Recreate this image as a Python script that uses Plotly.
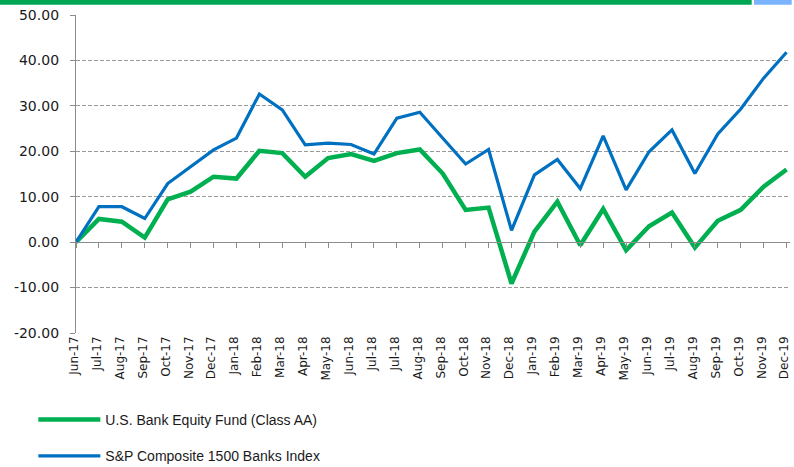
import plotly.graph_objects as go

months = ["Jun-17", "Jul-17", "Aug-17", "Sep-17", "Oct-17", "Nov-17", "Dec-17",
          "Jan-18", "Feb-18", "Mar-18", "Apr-18", "May-18", "Jun-18", "Jul-18",
          "Jul-18", "Aug-18", "Sep-18", "Oct-18", "Nov-18", "Dec-18",
          "Jan-19", "Feb-19", "Mar-19", "Apr-19", "May-19", "Jun-19", "Jul-19",
          "Aug-19", "Sep-19", "Oct-19", "Nov-19", "Dec-19"]

fund = [0.0, 5.1, 4.5, 1.0, 9.4, 11.1, 14.4, 14.0, 20.1, 19.6, 14.4, 18.5,
        19.4, 17.9, 19.6, 20.4, 15.1, 7.1, 7.6, -9.1, 2.3, 8.9, -0.7, 7.3,
        -1.8, 3.5, 6.5, -1.2, 4.7, 7.1, 12.2, 16.0]

index = [0.0, 7.8, 7.8, 5.2, 12.9, 16.6, 20.3, 22.9, 32.6, 29.1, 21.4, 21.8,
         21.5, 19.4, 27.3, 28.6, 22.9, 17.2, 20.4, 2.6, 14.8, 18.2, 11.8, 23.4,
         11.5, 19.9, 24.7, 15.1, 23.8, 29.3, 36.1, 41.8]

y_ticks = [50, 40, 30, 20, 10, 0, -10, -20]

x = list(range(len(months)))

GREEN = "#00B050"
BLUE = "#0070C0"

fig = go.Figure()
fig.add_trace(go.Scatter(
    x=x, y=fund, mode="lines", name="U.S. Bank Equity Fund (Class AA)",
    line=dict(color=GREEN, width=4.5), legendgroup="a"))
fig.add_trace(go.Scatter(
    x=x, y=index, mode="lines", name="S&P Composite 1500 Banks Index",
    line=dict(color=BLUE, width=3.2), legendgroup="b"))

xr = [0, len(months) - 1 + 0.15]

fig.update_layout(
    width=794, height=467,
    margin=dict(l=76, r=4, t=15, b=134, autoexpand=False),
    paper_bgcolor="white", plot_bgcolor="white",
    showlegend=True,
    legend=dict(
        xref="container", yref="container",
        x=0.042, y=1 - 404 / 467, xanchor="left", yanchor="top",
        font=dict(family="Liberation Sans, Arial, sans-serif", size=14, color="#1a1a1a"),
        itemwidth=62, tracegroupgap=15, bgcolor="rgba(0,0,0,0)",
        itemclick=False, itemdoubleclick=False,
    ),
    xaxis=dict(
        range=xr, tickmode="array", tickvals=x, ticktext=months,
        tickangle=-90, ticks="", showline=False, showgrid=False, zeroline=False,
        tickfont=dict(family="DejaVu Sans, sans-serif", size=12, color="#1a1a1a"),
        anchor="y", automargin=False, ticklabeloverflow="allow", ticklabelshift=-2,
    ),
    xaxis2=dict(
        range=xr, overlaying="x", anchor="free", position=20 / 70,
        tickmode="array", tickvals=x, ticks="outside", ticklen=5,
        tickcolor="#8c8c8c", tickwidth=1, showticklabels=False,
        showline=True, linecolor="#8c8c8c", linewidth=1.3,
        showgrid=False, zeroline=False, side="bottom", automargin=False,
    ),
    yaxis=dict(
        range=[-20, 50], tickmode="array", tickvals=y_ticks,
        ticktext=["%.2f" % v for v in y_ticks],
        ticks="outside", ticklen=5, tickcolor="#8c8c8c", ticklabelstandoff=8,
        showline=True, linecolor="#8c8c8c", linewidth=1.3,
        showgrid=True, gridcolor="#999999", gridwidth=1, griddash="4px,2px",
        zeroline=False, automargin=False,
        tickfont=dict(family="DejaVu Sans, sans-serif", size=14, color="#1a1a1a"),
    ),
    shapes=[
        dict(type="rect", xref="paper", yref="paper", x0=-76 / 714, x1=(751.7 - 76) / 714,
             y0=1 + 10.3 / 317.4, y1=1 + 15.3 / 317.4, fillcolor="#00A651", line=dict(width=0),
             layer="above"),
        dict(type="rect", xref="paper", yref="paper", x0=(754 - 76) / 714, x1=(791.7 - 76) / 714,
             y0=1 + 10.3 / 317.4, y1=1 + 15.3 / 317.4, fillcolor="#7AB4FF", line=dict(width=0),
             layer="above"),
    ],
)

# invisible point so that the zero-line axis is rendered
fig.add_trace(go.Scatter(x=[0], y=[0], xaxis="x2", mode="markers",
                         marker=dict(opacity=0), showlegend=False, hoverinfo="skip"))

fig.write_html("out.html", config={"displayModeBar": False},
               post_script="document.body.style.margin='0';document.body.style.padding='0';")
